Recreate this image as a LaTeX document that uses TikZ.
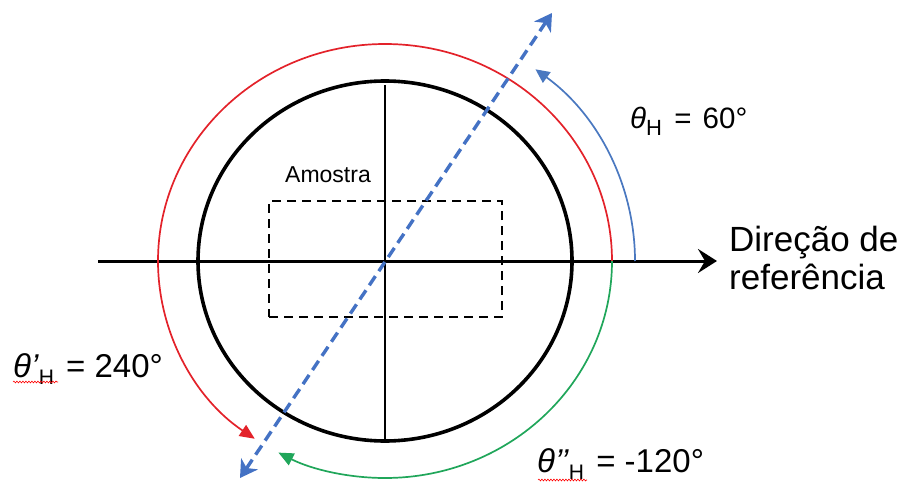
\documentclass[tikz,border=0pt]{standalone}
\usepackage{fontspec}
\setmainfont{Liberation Sans}
\usetikzlibrary{arrows.meta,decorations.pathmorphing,calc}
\definecolor{myred}{HTML}{E3222A}
\definecolor{mygreen}{HTML}{20A65A}
\definecolor{myblue}{HTML}{4A78C0}
\definecolor{dblue}{HTML}{4472C4}
\newcommand{\mysub}[2]{\raisebox{-#1}{\fontsize{#2}{#2}\selectfont H}}
\begin{document}
\begin{tikzpicture}[x=1pt,y=1pt,
  ring/.style={line width=3.6pt},
  axisline/.style={line width=3pt,-{Stealth[length=19pt,width=24pt,inset=7pt]}},
  vline/.style={line width=2pt},
  samplebox/.style={draw,line width=2.2pt,dash pattern=on 9pt off 6pt,inner sep=0pt},
  arcred/.style={myred,line width=1.7pt,-{Triangle[length=15pt,width=13pt]}},
  arcgreen/.style={mygreen,line width=1.7pt,-{Triangle[length=15pt,width=13pt]}},
  arcblue/.style={myblue,line width=1.7pt,-{Triangle[length=14pt,width=13pt]}},
  dirline/.style={dblue,line width=3.4pt,dash pattern=on 11pt off 6pt,
    {Stealth[length=17pt,width=20pt,inset=5pt]}-{Stealth[length=17pt,width=20pt,inset=5pt]}},
  lab/.style={inner sep=0pt,anchor=base west},
  spell/.style={red,line width=0.6pt,decorate,decoration={snake,segment length=3pt,amplitude=0.9pt}}
]
\useasboundingbox (0,0) rectangle (905,483);
\coordinate (C) at (385,222);
% reference axis
\coordinate (axL) at (98,222);
\coordinate (axR) at (717,222);
\draw[axisline] (axL) -- (axR);
% vertical line
\coordinate (vT) at (385,398);
\coordinate (vB) at (385,43);
\draw[vline] (vT) -- (vB);
% circle
\draw[ring] (C) ellipse [x radius=187pt,y radius=180pt];
% sample
\node[samplebox,minimum width=233pt,minimum height=116pt] (sample) at (385.5,224) {};
\node[inner sep=0pt,font=\fontsize{23}{25}\selectfont] (amostra) at (328,308) {Amostra};
% arcs
\draw[arcred] ([shift={(0:227pt and 217pt)}]C) arc[start angle=0,end angle=235,x radius=227pt,y radius=217pt];
\draw[arcgreen] ([shift={(0:227pt and 217pt)}]C) arc[start angle=0,end angle=-118,x radius=227pt,y radius=217pt];
\draw[arcblue] ([shift={(0:250pt and 240pt)}]C) arc[start angle=0,end angle=53,x radius=250pt,y radius=240pt];
% direction line
\coordinate (dT) at ($(C)+(167,248)$);
\coordinate (dB) at ($(C)+(-145,-217)$);
\draw[dirline] (dB) -- (dT);
% labels
\node[lab,font=\fontsize{35}{38}\selectfont] (ref1) at (729,232) {Direção de};
\node[lab,font=\fontsize{35}{38}\selectfont] (ref2) at (729,194) {referência};
\node[lab,font=\fontsize{29.5}{31}\selectfont] (t1) at (630,355) {\textit{θ}\mysub{8pt}{22}\hspace{4pt} = \hspace{3pt}60°};
\node[lab,font=\fontsize{33}{35}\selectfont] (t2) at (13,106) {\textit{θ’}\mysub{7pt}{21}\hspace{3pt} = 240°};
\node[lab,font=\fontsize{33}{35}\selectfont] (t3) at (537,11) {\textit{θ’’}\mysub{7pt}{21}\hspace{3pt} = -120°};
\draw[spell] (13,101) -- (58,101);
\draw[spell] (538,3) -- (587,3);
\end{tikzpicture}
\end{document}
